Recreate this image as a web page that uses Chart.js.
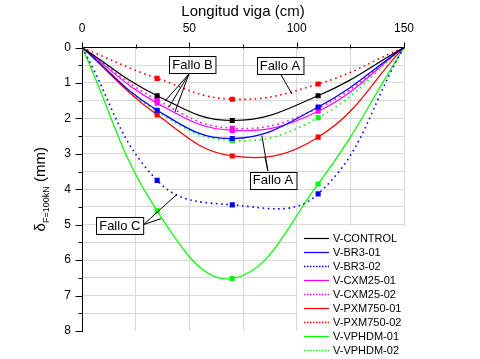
<!DOCTYPE html>
<html><head><meta charset="utf-8">
<script src="https://cdn.jsdelivr.net/npm/chart.js@4.4.1/dist/chart.umd.min.js"></script>
<style>html,body{margin:0;padding:0;background:#fff;}canvas{display:block;}</style>
</head><body>
<canvas id="c" width="480" height="359"></canvas>
<script>
// ---- data ----
const positions = [0, 35, 70, 110, 150];           // Longitud viga (cm)
const seriesLabels = ['V-CONTROL','V-BR3-01','V-BR3-02','V-CXM25-01','V-CXM25-02','V-PXM750-01','V-PXM750-02','V-VPHDM-01','V-VPHDM-02'];
const vControl   = [0, 1.36, 2.06, 1.36, 0];
const vBR3_01    = [0, 1.77, 2.57, 1.68, 0];
const vBR3_02    = [0, 3.75, 4.44, 4.13, 0];
const vCXM25_01  = [0, 1.57, 2.34, 1.80, 0];
const vCXM25_02  = [0, 1.48, 2.28, 1.71, 0];
const vPXM750_01 = [0, 1.90, 3.06, 2.53, 0];
const vPXM750_02 = [0, 0.87, 1.46, 1.03, 0];
const vVPHDM_01  = [0, 4.61, 6.52, 3.85, 0];
const vVPHDM_02  = [0, 1.80, 2.63, 1.98, 0];
const seriesValues = [vControl, vBR3_01, vBR3_02, vCXM25_01, vCXM25_02, vPXM750_01, vPXM750_02, vVPHDM_01, vVPHDM_02];
const xTickValues = [0, 50, 100, 150];
const yTickValues = [0, 1, 2, 3, 4, 5, 6, 7, 8];

// ---- styles ----
const colors = ['#000000','#0000ff','#0000ff','#ff00ff','#ff00ff','#ff0000','#ff0000','#00ff00','#00ff00'];
const dotted = [false,false,true,false,true,false,true,false,true];

const FONT = "'Liberation Sans', Arial, sans-serif";
Chart.defaults.font.family = FONT;
Chart.defaults.color = '#000';

const datasets = seriesLabels.map((label, i) => ({
  label,
  data: positions.map((x, j) => ({x, y: seriesValues[i][j]})),
  borderColor: colors[i],
  backgroundColor: colors[i],
  borderWidth: dotted[i] ? 1.6 : 1.2,
  borderDash: dotted[i] ? [1.6, 3.6] : [],
  tension: 0.42,
  pointStyle: 'rect',
  pointRadius: ctx => (ctx.dataIndex === 0 || ctx.dataIndex === positions.length - 1) ? 0 : 3.6,
  pointBorderWidth: 0,
  pointBackgroundColor: colors[i],
  fill: false
}));

// annotations in data coordinates (cm, mm)
const annotations = [
  {text: 'Fallo B', at: [51.5, 0.48], from: [49.8, 0.75], to: [[38.7, 1.51], [40.5, 1.68], [43.3, 1.82]]},
  {text: 'Fallo A', at: [92.2, 0.51], from: [92.7, 0.77], to: [[97.8, 1.31]]},
  {text: 'Fallo A', at: [89.0, 3.75], from: [86.6, 3.48], to: [[83.8, 2.49], [85.2, 3.08]]},
  {text: 'Fallo C', at: [17.6, 5.03], from: [28.6, 5.0], to: [[44.3, 4.14], [36.8, 4.83]]}
];

const overlay = {
  id: 'overlay',
  beforeDatasetsDraw(chart) {
    const ctx = chart.ctx;
    ctx.save();
    ctx.fillStyle = '#fff';
    ctx.fillRect(298, 226, 182, 133);
    ctx.restore();
  },
  afterDatasetsDraw(chart) {
    const ctx = chart.ctx, xs = chart.scales.x, ys = chart.scales.y, ca = chart.chartArea;
    ctx.save();
    // legend background again over data
    ctx.fillStyle = '#fff';
    ctx.fillRect(298, 226, 182, 133);
    // axis ticks (outward)
    ctx.strokeStyle = '#000'; ctx.lineWidth = 1;
    ctx.beginPath();
    for (let v = 0; v <= 8.0001; v += 0.5) {
      const y = Math.round(ys.getPixelForValue(v)) + 0.5;
      const len = Number.isInteger(v) ? 7 : 4;
      ctx.moveTo(Math.round(ca.left) + 0.5 - len, y); ctx.lineTo(Math.round(ca.left) + 0.5, y);
    }
    for (let v = 0; v <= 150; v += 25) {
      const x = Math.round(xs.getPixelForValue(v)) + 0.5;
      const len = v % 50 === 0 ? 6 : 4;
      ctx.moveTo(x, Math.round(ca.top) + 0.5 - len); ctx.lineTo(x, Math.round(ca.top) + 0.5);
    }
    ctx.stroke();

    // annotations
    ctx.font = '13px ' + FONT;
    ctx.textAlign = 'center'; ctx.textBaseline = 'middle';
    annotations.forEach(a => {
      const fx = xs.getPixelForValue(a.from[0]), fy = ys.getPixelForValue(a.from[1]);
      ctx.beginPath(); ctx.strokeStyle = '#000'; ctx.lineWidth = 1;
      a.to.forEach(t => { ctx.moveTo(fx, fy); ctx.lineTo(xs.getPixelForValue(t[0]), ys.getPixelForValue(t[1])); });
      ctx.stroke();
      const cx = xs.getPixelForValue(a.at[0]), cy = ys.getPixelForValue(a.at[1]);
      const w = ctx.measureText(a.text).width + 6, h = 17;
      const bx = Math.round(cx - w / 2) + 0.5, by = Math.round(cy - h / 2) + 0.5;
      ctx.fillStyle = '#fff'; ctx.fillRect(bx, by, w, h);
      ctx.strokeRect(bx, by, w, h);
      ctx.fillStyle = '#000'; ctx.fillText(a.text, cx, cy + 0.5);
    });

    // legend
    ctx.font = '11px ' + FONT;
    ctx.textAlign = 'left'; ctx.textBaseline = 'middle';
    chart.data.datasets.forEach((ds, i) => {
      const y = 238 + i * 14;
      ctx.beginPath();
      ctx.strokeStyle = ds.borderColor;
      ctx.lineWidth = dotted[i] ? 1.4 : 1.2;
      ctx.setLineDash(dotted[i] ? [1.5, 1.5] : []);
      ctx.moveTo(304, y + 0.5); ctx.lineTo(329, y + 0.5);
      ctx.stroke();
      ctx.setLineDash([]);
      ctx.fillStyle = '#000';
      ctx.fillText(ds.label, 333, y + 0.5);
    });

    // top title
    ctx.font = '15px ' + FONT;
    ctx.textAlign = 'center'; ctx.textBaseline = 'alphabetic';
    ctx.fillText('Longitud viga (cm)', (ca.left + ca.right) / 2, 16);

    // y title (rotated, with subscript)
    const mainFont = '15px ' + FONT, subFont = '9px ' + FONT;
    ctx.font = mainFont; const w1 = ctx.measureText('\u03B4').width, w3 = ctx.measureText(' (mm)').width;
    ctx.font = subFont; const w2 = ctx.measureText('F=100kN').width;
    const total = w1 + w2 + w3;
    ctx.translate(45, (ca.top + ca.bottom) / 2 + 0);
    ctx.rotate(-Math.PI / 2);
    ctx.textAlign = 'left';
    let sx = -total / 2;
    ctx.font = mainFont; ctx.fillText('\u03B4', sx, 0); sx += w1;
    ctx.font = subFont; ctx.fillText('F=100kN', sx, 4); sx += w2;
    ctx.font = mainFont; ctx.fillText(' (mm)', sx, 0);
    ctx.restore();
  }
};

new Chart(document.getElementById('c'), {
  type: 'line',
  data: { datasets },
  options: {
    responsive: false,
    animation: false,
    events: [],
    layout: { padding: { left: 42, top: 20, right: 76, bottom: 28 } },
    plugins: { legend: { display: false }, tooltip: { enabled: false } },
    scales: {
      x: {
        type: 'linear', position: 'top', min: 0, max: 150,
        afterFit: s => { s.height = 27.5; },
        afterBuildTicks: s => { s.ticks = [0, 25, 50, 75, 100, 125, 150].map(v => ({value: v})); },
        ticks: { autoSkip: false, maxRotation: 0, padding: 12, font: { size: 12 }, color: '#000',
                 callback: v => xTickValues.includes(v) ? String(v) : '' },
        grid: { drawTicks: false, color: '#d9d9d9', lineWidth: 1 },
        border: { display: true, color: '#000', width: 1 }
      },
      y: {
        type: 'linear', position: 'left', min: 0, max: 8, reverse: true,
        afterFit: s => { s.width = 40; },
        ticks: { stepSize: 0.5, autoSkip: false, padding: 11, font: { size: 12 }, color: '#000',
                 callback: v => yTickValues.includes(v) ? String(v) : '' },
        grid: { drawTicks: false, lineWidth: 1,
                color: c => (c.tick && c.tick.value === 8) ? 'rgba(0,0,0,0)' : '#d9d9d9' },
        border: { display: true, color: '#000', width: 1 }
      }
    }
  },
  plugins: [overlay]
});
</script>
</body></html>
